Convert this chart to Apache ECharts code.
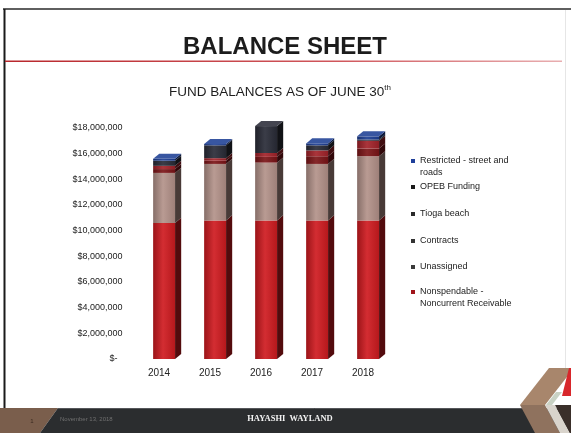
<!DOCTYPE html>
<html>
<head>
<meta charset="utf-8">
<title>Balance Sheet</title>
<script src="https://cdn.jsdelivr.net/npm/echarts@6/dist/echarts.min.js"></script>
<style>
  html, body { margin: 0; padding: 0; background: #ffffff; }
  #chart { width: 571px; height: 433px; }
</style>
</head>
<body>
<div id="chart"></div>
<script>
// Fiscal years on the category axis
const years = ['2014', '2015', '2016', '2017', '2018'];

// Fund balance components, dollars (stacked bottom to top)
const nonspendable = [10600000, 10800000, 10800000, 10800000, 10800000];
const unassigned   = [3900000, 4400000, 4500000, 4400000, 5000000];
const contracts    = [300000, 250000, 450000, 600000, 600000];
const tiogaBeach   = [250000, 200000, 300000, 450000, 600000];
const opebFunding  = [400000, 1000000, 2100000, 400000, 100000];
const restricted   = [150000, 100000, 0, 150000, 250000];

// Y axis range and ticks
const yMax = 18000000;
const yStep = 2000000;

// Stack order (bottom first), with face and legend colours
const funds = [
  { name: 'Nonspendable - Noncurrent Receivable', values: nonspendable, color: '#cf1b20', marker: '#a0141a' },
  { name: 'Unassigned', values: unassigned, color: '#b3928a', marker: '#3a3a3a' },
  { name: 'Contracts', values: contracts, color: '#7c1518', marker: '#333333' },
  { name: 'Tioga beach', values: tiogaBeach, color: '#a3232a', marker: '#2a2a2a' },
  { name: 'OPEB Funding', values: opebFunding, color: '#2a2c38', marker: '#1a1a1a' },
  { name: 'Restricted - street and roads', values: restricted, color: '#1d3f94', marker: '#1f3f9a' }
];

function shade(hex, f) {
  const n = parseInt(hex.slice(1), 16);
  let r = (n >> 16) & 255, g = (n >> 8) & 255, b = n & 255;
  if (f < 0) { r *= 1 + f; g *= 1 + f; b *= 1 + f; }
  else { r += (255 - r) * f; g += (255 - g) * f; b += (255 - b) * f; }
  return 'rgb(' + Math.round(r) + ',' + Math.round(g) + ',' + Math.round(b) + ')';
}

// Build stacked [category, low, high, isTop] rows for every fund
const cumulative = years.map(() => 0);
const topIndex = years.map((_, i) => {
  let t = -1;
  funds.forEach((f, k) => { if (f.values[i] > 0) t = k; });
  return t;
});
const stacked = funds.map((f, k) => years.map((_, i) => {
  const lo = cumulative[i];
  cumulative[i] += f.values[i];
  return [i, lo, cumulative[i], topIndex[i] === k ? 1 : 0];
}));

function makeRenderer(color) {
  const front = new echarts.graphic.LinearGradient(0, 0, 1, 0, [
    { offset: 0, color: shade(color, -0.25) },
    { offset: 0.45, color: shade(color, 0.08) },
    { offset: 1, color: shade(color, -0.12) }
  ]);
  const side = shade(color, -0.6);
  const topFace = shade(color, 0.12);
  return function (params, api) {
    const lo = api.value(1), hi = api.value(2);
    if (!(hi > lo)) return;
    const ci = api.value(0);
    const a = api.coord([ci, lo]);
    const b = api.coord([ci, hi]);
    const band = api.size([1, 0])[0];
    const w = band * 0.43, off = band * 0.1, dx = band * 0.12, dy = band * 0.1;
    const x0 = a[0] + off - w / 2, x1 = x0 + w;
    const yb = a[1], yt = b[1];
    const children = [
      { type: 'rect', shape: { x: x0, y: yt, width: w, height: yb - yt }, style: { fill: front } },
      { type: 'polygon', shape: { points: [[x1, yb], [x1 + dx, yb - dy], [x1 + dx, yt - dy], [x1, yt]] }, style: { fill: side } }
    ];
    if (api.value(3) === 1) {
      children.push({ type: 'polygon', shape: { points: [[x0, yt], [x0 + dx, yt - dy], [x1 + dx, yt - dy], [x1, yt]] }, style: { fill: topFace } });
    }
    return { type: 'group', children: children };
  };
}

const series = funds.map((f, k) => ({
  type: 'custom',
  name: f.name,
  coordinateSystem: 'cartesian2d',
  encode: { x: 0, y: [1, 2] },
  itemStyle: { color: f.color },
  data: stacked[k],
  renderItem: makeRenderer(f.color),
  silent: true
}));

// Legend rows, top entry first; two-line labels keep the marker on the first line
const legendRows = [
  { name: 'Restricted - street and roads', lines: ['Restricted - street and', 'roads'], y: 157 },
  { name: 'OPEB Funding', lines: ['OPEB Funding'], y: 183 },
  { name: 'Tioga beach', lines: ['Tioga beach'], y: 210 },
  { name: 'Contracts', lines: ['Contracts'], y: 237 },
  { name: 'Unassigned', lines: ['Unassigned'], y: 263 },
  { name: 'Nonspendable - Noncurrent Receivable', lines: ['Nonspendable -', 'Noncurrent Receivable'], y: 288 }
];
const lineH = 12;
const legends = legendRows.map(row => {
  const fund = funds.find(f => f.name === row.name);
  const two = row.lines.length > 1;
  const h = two ? 4 + lineH : 4;
  const icon = two
    ? 'path://M0,0L1,0L1,1L0,1Z M0,' + (h / 4 - 0.01) + 'L0.01,' + (h / 4 - 0.01) + 'L0.01,' + (h / 4) + 'L0,' + (h / 4) + 'Z'
    : 'rect';
  return {
    show: true,
    orient: 'vertical',
    left: 411,
    top: row.y - 2,
    padding: 0,
    itemWidth: 4,
    itemHeight: h,
    icon: icon,
    symbolKeepAspect: false,
    selectedMode: false,
    data: [{ name: row.name, itemStyle: { color: fund.marker } }],
    formatter: () => row.lines.join('\n'),
    textStyle: { fontFamily: 'Liberation Sans, Arial, sans-serif', fontSize: 9, color: '#222', lineHeight: lineH }
  };
});

function money(v) {
  if (v === 0) return '$-  ';
  return '$' + String(v).replace(/\B(?=(\d{3})+(?!\d))/g, ',');
}

const chart = echarts.init(document.getElementById('chart'), null, { renderer: 'canvas', width: 571, height: 433 });

chart.setOption({
  animation: false,
  backgroundColor: '#ffffff',
  grid: { left: 133.5, right: 182.5, top: 128, bottom: 74, containLabel: false },
  xAxis: {
    type: 'category',
    data: years,
    axisLine: { show: false },
    axisTick: { show: false },
    axisLabel: { margin: 9, fontFamily: 'Liberation Sans, Arial, sans-serif', fontSize: 10, color: '#222' }
  },
  yAxis: {
    type: 'value',
    min: 0,
    max: yMax,
    interval: yStep,
    axisLine: { show: false },
    axisTick: { show: false },
    splitLine: { show: false },
    axisLabel: { margin: 11, formatter: money, fontFamily: 'Liberation Sans, Arial, sans-serif', fontSize: 9, color: '#222' }
  },
  legend: legends,
  series: series,
  graphic: [
    // slide frame
    { type: 'line', shape: { x1: 3, y1: 9, x2: 571, y2: 9 }, style: { stroke: '#2a2a2a', lineWidth: 1.5 }, z: 1 },
    { type: 'line', shape: { x1: 4.5, y1: 9, x2: 4.5, y2: 408 }, style: { stroke: '#1a1a1a', lineWidth: 2 }, z: 1 },
    { type: 'line', shape: { x1: 565.5, y1: 10, x2: 565.5, y2: 368 }, style: { stroke: '#e6e6e6', lineWidth: 1 }, z: 1 },
    // header
    { type: 'text', x: 285, y: 47, style: { text: 'BALANCE SHEET', font: 'bold 24px "Liberation Sans", Arial, sans-serif', fill: '#1c1c1c', align: 'center', verticalAlign: 'middle' }, z: 5 },
    {
      type: 'rect', shape: { x: 5, y: 60.5, width: 557, height: 1.6 },
      style: { fill: new echarts.graphic.LinearGradient(0, 0, 1, 0, [
        { offset: 0, color: '#b8272c' }, { offset: 0.6, color: '#d0575c' }, { offset: 1, color: '#e8aeb0' }
      ]) }, z: 1
    },
    {
      type: 'text', x: 280, y: 92,
      style: {
        text: '{m|FUND BALANCES AS OF JUNE 30}{s|th}',
        align: 'center', verticalAlign: 'middle',
        rich: {
          m: { fontFamily: '"Liberation Sans", Arial, sans-serif', fontSize: 13.5, fill: '#1e1e1e', lineHeight: 16 },
          s: { fontFamily: '"Liberation Sans", Arial, sans-serif', fontSize: 8, fill: '#1e1e1e', verticalAlign: 'top', lineHeight: 16 }
        }
      }, z: 5
    },
    // footer band
    { type: 'polygon', shape: { points: [[0, 408], [58, 408], [40, 433], [0, 433]] }, style: { fill: '#7a5e4c' }, z: 2 },
    { type: 'polygon', shape: { points: [[58, 408], [571, 408], [571, 433], [40, 433]] }, style: { fill: '#2b2d2f' }, z: 2 },
    { type: 'line', shape: { x1: 58, y1: 408.5, x2: 571, y2: 408.5 }, style: { stroke: '#55575a', lineWidth: 1 }, z: 3 },
    { type: 'text', x: 32, y: 421, style: { text: '1', font: '6px "Liberation Sans", Arial, sans-serif', fill: '#3a2a20', align: 'center', verticalAlign: 'middle' }, z: 4 },
    { type: 'text', x: 60, y: 419, style: { text: 'November 13, 2018', font: '6px "Liberation Sans", Arial, sans-serif', fill: '#707070', align: 'left', verticalAlign: 'middle' }, z: 4 },
    { type: 'text', x: 290, y: 419, style: { text: 'HAYASHI  WAYLAND', font: 'bold 8.5px "Liberation Serif", "DejaVu Serif", serif', fill: '#f2f2f2', align: 'center', verticalAlign: 'middle' }, z: 4 },
    // corner chevron
    { type: 'polygon', shape: { points: [[549, 368], [574, 368], [545, 405], [520, 405]] }, style: { fill: '#a8866c' }, z: 3 },
    { type: 'polygon', shape: { points: [[520, 405], [545, 405], [560, 433], [535, 433]] }, style: { fill: '#8f725e' }, z: 3 },
    { type: 'polygon', shape: { points: [[545, 405], [555, 405], [570, 433], [560, 433]] }, style: { fill: '#d9d4cc' }, z: 3 },
    { type: 'polygon', shape: { points: [[555, 405], [571, 405], [571, 433], [570, 433]] }, style: { fill: '#3a2f2a' }, z: 3 },
    { type: 'polygon', shape: { points: [[569, 368], [571, 368], [571, 396], [562, 396]] }, style: { fill: '#d8272b' }, z: 3 },
    { type: 'polygon', shape: { points: [[556, 392], [562, 392], [552, 405], [546, 405]] }, style: { fill: '#c9d2c4' }, z: 3 }
  ]
});
</script>
</body>
</html>
